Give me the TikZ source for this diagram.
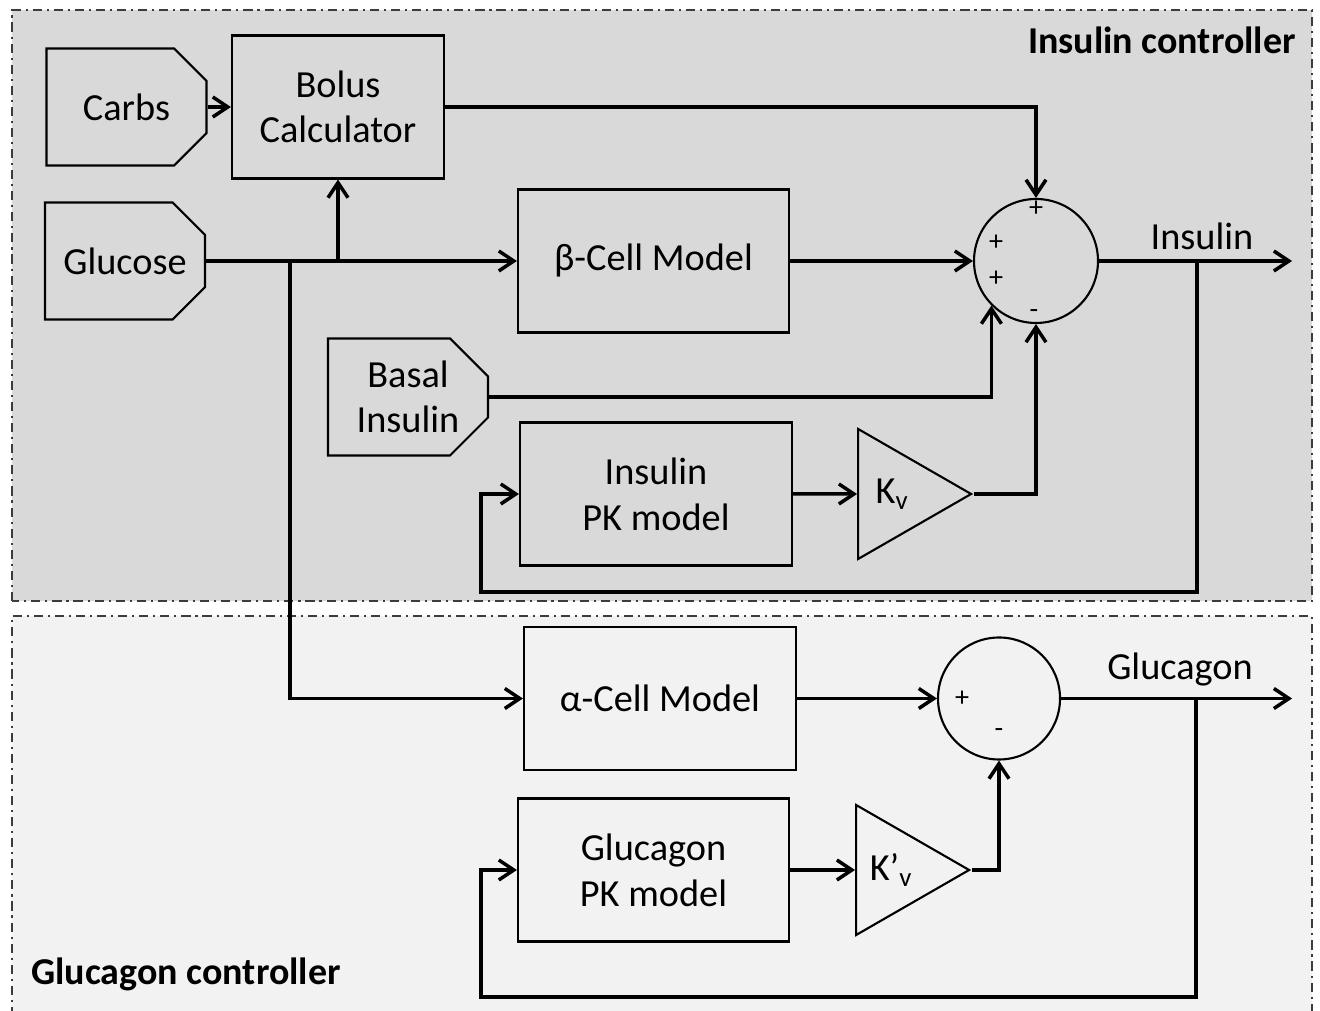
\documentclass[tikz,border=0pt]{standalone}
\usepackage{fontspec}
\setmainfont{Carlito}
\usepackage{xcolor}
\usepackage{tikz}
\usetikzlibrary{shapes.geometric, shapes.misc, arrows.meta, positioning}
\definecolor{panelgray}{RGB}{217, 217, 217}
\definecolor{panellight}{RGB}{242, 242, 242}
\definecolor{frameline}{RGB}{60, 60, 60}

\begin{document}
\begin{tikzpicture}[
  font=\fontsize{10.9}{13}\selectfont,
  block/.style={rectangle, draw, line width=0.6pt, minimum width=2.72cm, minimum height=1.43cm, align=center},
  source/.style={chamfered rectangle, chamfered rectangle corners={north east, south east}, chamfered rectangle xsep=0.19cm, chamfered rectangle ysep=0.19cm, draw, line width=0.6pt, minimum width=1.6cm, minimum height=1.17cm, inner sep=0pt, align=center},
  gain/.style={isosceles triangle, isosceles triangle stretches, shape border rotate=0, draw, line width=0.6pt, minimum width=1.3cm, minimum height=1.13cm, inner sep=0pt},
  sum/.style={circle, draw, line width=0.6pt, inner sep=0pt},
  sign/.style={font=\fontsize{8}{9}\selectfont, inner sep=0pt},
  title/.style={font=\fontsize{10.8}{13}\selectfont\bfseries},
  panel/.style={draw=frameline, line width=0.5pt, dash pattern=on 2.6pt off 1.4pt on 0.6pt off 1.4pt},
  arrow/.style={-{Straight Barb[length=1.5mm, width=2mm]}, line width=1pt},
]
  \useasboundingbox (0,0) rectangle (13.2,10.11);

  % Panels
  \draw[panel, fill=panelgray] (0.12,4.10) rectangle (13.12,10.01);
  \draw[panel, fill=panellight] (0.12,-0.05) rectangle (13.12,3.95);
  \node[title, anchor=east] (insTitle) at (13.08,9.71) {Insulin controller};
  \node[title, anchor=west] (gluTitle) at (0.19,0.37) {Glucagon controller};

  % Nodes
  \node[source] (carbs) at (1.265,9.04) {Carbs};
  \node[source] (glucose) at (1.25,7.50) {Glucose};
  \node[block, minimum width=2.12cm] (bolus) at (3.38,9.04) {Bolus\\Calculator};
  \node[block, minimum width=2.71cm] (beta) at (6.535,7.50) {β-Cell Model};
  \node[source] (basal) at (4.08,6.14) {Basal\\Insulin};
  \node[block] (pkI) at (6.56,5.17) {Insulin\\PK model};
  \node[gain, right=0.64cm of pkI] (kv) {K\textsubscript{v}};
  \node[sum, minimum size=1.24cm] (sum1) at (10.36,7.50) {};
  \node[block] (alpha) at (6.60,3.125) {α-Cell Model};
  \node[sum, minimum size=1.22cm] (sum2) at (9.99,3.125) {};
  \node[block, minimum width=2.71cm] (pkG) at (6.535,1.41) {Glucagon\\PK model};
  \node[gain, right=0.65cm of pkG] (kv2) {K’\textsubscript{v}};

  % Signs
  \node[sign, below=0.02cm of sum1.north] (s1a) {+};
  \node[sign] (s1b) at ([xshift=-0.40cm, yshift=0.18cm]sum1.center) {+};
  \node[sign] (s1c) at ([xshift=-0.40cm, yshift=-0.18cm]sum1.center) {+};
  \node[sign] (s1d) at ([xshift=-0.02cm, yshift=-0.53cm]sum1.center) {-};
  \node[sign] (s2a) at ([xshift=-0.37cm]sum2.center) {+};
  \node[sign] (s2b) at ([yshift=-0.35cm]sum2.center) {-};

  % Labels
  \node (insOut) at (12.02,7.75) {Insulin};
  \node (gluOut) at (11.80,3.42) {Glucagon};

  % Joints
  \coordinate (split) at (2.90,7.50);
  \coordinate (tapI) at (11.97,7.50);
  \coordinate (outI) at (12.92,7.50);
  \coordinate (loopI) at (4.81,4.19);
  \coordinate (tapG) at (11.96,3.125);
  \coordinate (outG) at (12.92,3.125);
  \coordinate (loopG) at (4.81,0.14);

  % Paths
  \draw[arrow] (carbs.east) -- (bolus.west);
  \draw[arrow] (glucose.east) -- (beta.west);
  \draw[arrow] (glucose.east -| bolus.south) -- (bolus.south);
  \draw[arrow] (split) |- (alpha.west);
  \draw[arrow] (bolus.east) -| (sum1.north);
  \draw[arrow] (beta.east) -- (sum1.west);
  \draw[arrow] (basal.east) -| (sum1.south west);
  \draw[arrow] (pkI.east) -- (kv.lower side);
  \draw[arrow] (kv.apex) -| (sum1.south);
  \draw[arrow] (sum1.east) -- (outI);
  \draw[arrow] (tapI) |- (loopI) |- (pkI.west);

  \draw[arrow] (alpha.east) -- (sum2.west);
  \draw[arrow] (pkG.east) -- (kv2.lower side);
  \draw[arrow] (kv2.apex) -| (sum2.south);
  \draw[arrow] (sum2.east) -- (outG);
  \draw[arrow] (tapG) |- (loopG) |- (pkG.west);
\end{tikzpicture}
\end{document}
